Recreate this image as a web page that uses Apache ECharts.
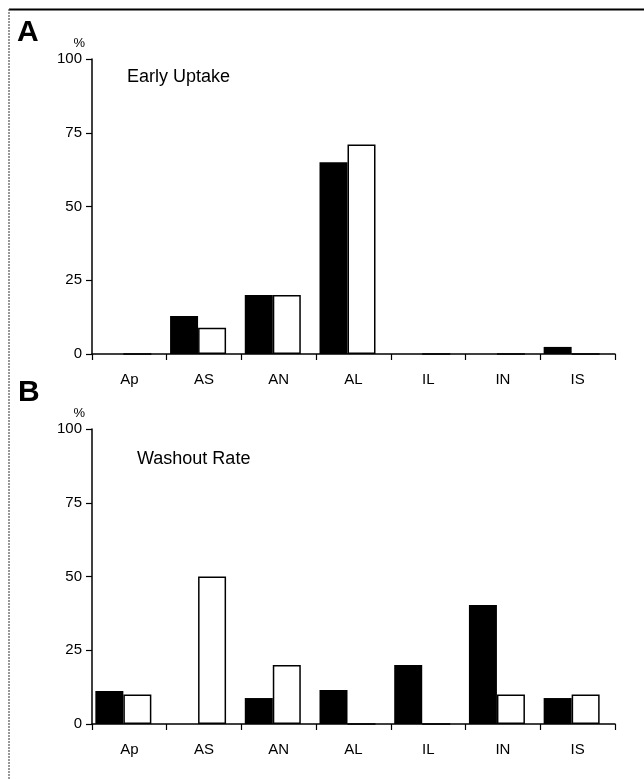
<!DOCTYPE html>
<html>
<head>
<meta charset="utf-8">
<script src="https://cdn.jsdelivr.net/npm/echarts@6/dist/echarts.min.js"></script>
<style>
html,body{margin:0;padding:0;background:#fff;}
#c{width:644px;height:779px;}
</style>
</head>
<body>
<div id="c"></div>
<script>
const categories = ['Ap', 'AS', 'AN', 'AL', 'IL', 'IN', 'IS'];
const yTicks = [0, 25, 50, 75, 100];
const earlyBlack = [0, 12.9, 20, 65, 0, 0, 2.4];
const earlyWhite = [0, 8.9, 20, 71, 0, 0, 0];
const washBlack = [11.2, 0, 8.8, 11.5, 20, 40.3, 8.8];
const washWhite = [10, 50, 20, 0, 0, 10, 10];
const spacer = categories.map(() => '-');

const FONT = 'Liberation Sans, Arial, Helvetica, sans-serif';
const chart = echarts.init(document.getElementById('c'), null, {renderer: 'canvas'});

function xAxis(gi) {
  return {
    type: 'category', gridIndex: gi, data: categories,
    axisLine: {lineStyle: {color: '#000', width: 1.5}},
    axisTick: {show: true, length: 6, lineStyle: {color: '#000', width: 1.2}},
    axisLabel: {color: '#000', fontSize: 15, fontFamily: FONT, margin: 18}
  };
}
function yAxis(gi) {
  return {
    type: 'value', gridIndex: gi, min: yTicks[0], max: yTicks[yTicks.length - 1], interval: 25,
    name: '%', nameLocation: 'end', nameGap: 9,
    nameTextStyle: {color: '#000', fontSize: 13, fontFamily: FONT, align: 'right', padding: [0, 7, 0, 0]},
    axisLine: {show: true, lineStyle: {color: '#000', width: 1.5}},
    axisTick: {show: true, length: 6, lineStyle: {color: '#000', width: 1.2}},
    axisLabel: {color: '#000', fontSize: 15, fontFamily: FONT, margin: 10},
    splitLine: {show: false}
  };
}
function blackSeries(data, i) {
  return {type: 'bar', xAxisIndex: i, yAxisIndex: i, data: data, barWidth: 28, barGap: '0%',
    itemStyle: {color: '#000'}, silent: true};
}
function whiteSeries(data, i) {
  return {type: 'bar', xAxisIndex: i, yAxisIndex: i, data: data, barWidth: 28, barGap: '0%',
    itemStyle: {color: '#fff', borderColor: '#000', borderWidth: 1.5}, silent: true};
}
function spacerSeries(i) {
  return {type: 'bar', xAxisIndex: i, yAxisIndex: i, data: spacer, barWidth: 12, barGap: '0%',
    itemStyle: {color: 'rgba(0,0,0,0)'}, silent: true};
}

chart.setOption({
  animation: false,
  backgroundColor: '#fff',
  title: [
    {text: 'A', left: 12, top: 13, textStyle: {fontSize: 30, fontWeight: 'bold', fontFamily: FONT, color: '#000'}},
    {text: 'B', left: 13, top: 373, textStyle: {fontSize: 30, fontWeight: 'bold', fontFamily: FONT, color: '#000'}},
    {text: 'Early Uptake', left: 122, top: 63, textStyle: {fontSize: 18, fontWeight: 'normal', fontFamily: FONT, color: '#000'}},
    {text: 'Washout Rate', left: 132, top: 445, textStyle: {fontSize: 18, fontWeight: 'normal', fontFamily: FONT, color: '#000'}}
  ],
  graphic: [
    {type: 'line', shape: {x1: 9, y1: 9.5, x2: 644, y2: 9.5}, style: {stroke: '#000', lineWidth: 2}},
    {type: 'line', shape: {x1: 9, y1: 9, x2: 9, y2: 779}, style: {stroke: '#555', lineWidth: 1.2, lineDash: [2, 1]}}
  ],
  grid: [
    {left: 92, top: 59, width: 523, height: 295},
    {left: 92, top: 429, width: 523, height: 295}
  ],
  xAxis: [xAxis(0), xAxis(1)],
  yAxis: [yAxis(0), yAxis(1)],
  series: [
    blackSeries(earlyBlack, 0), whiteSeries(earlyWhite, 0), spacerSeries(0),
    blackSeries(washBlack, 1), whiteSeries(washWhite, 1), spacerSeries(1)
  ]
});
</script>
</body>
</html>
